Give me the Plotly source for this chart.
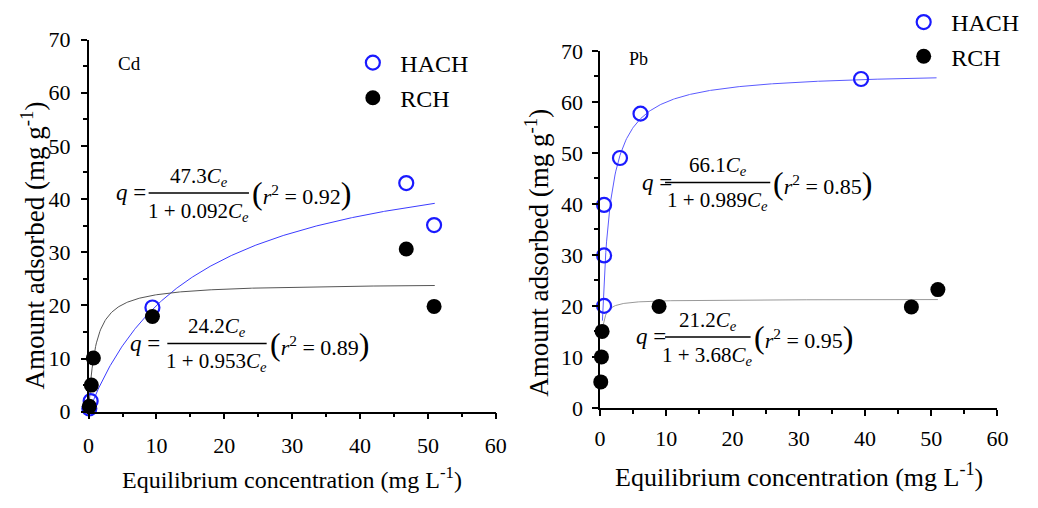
import numpy as np
import plotly.graph_objects as go

W, H = 1038, 508
FONT = "Times New Roman, Liberation Serif, DejaVu Serif, serif"

# ---- data ----
cd_hach_x = [0.1, 0.3, 9.4, 46.8, 50.9]
cd_hach_y = [0.6, 2.0, 19.6, 43.0, 35.1]
cd_rch_x = [0.1, 0.4, 0.7, 9.4, 46.8, 50.9]
cd_rch_y = [1.0, 5.0, 10.1, 17.9, 30.6, 19.8]

pb_hach_x = [0.6, 0.6, 0.6, 3.0, 6.1, 39.4]
pb_hach_y = [20.0, 29.9, 39.8, 49.0, 57.7, 64.5]
pb_rch_x = [0.1, 0.2, 0.3, 8.9, 47.0, 51.0]
pb_rch_y = [5.1, 10.0, 15.0, 19.9, 19.8, 23.2]

# Langmuir fit curves (drawn shape parameters)
cd_hach_fit = dict(qm=51.2, K=0.064, x0=0.0, x1=51.0)
cd_rch_fit = dict(qm=24.2, K=1.0, x0=0.0, x1=51.0)
pb_hach_fit = dict(qm=66.0, K=1.0, x0=0.35, x1=50.8)
pb_rch_fit = dict(qm=21.3, K=7.0, x0=0.45, x1=51.0)

x_ticks = [0, 10, 20, 30, 40, 50, 60]
y_ticks = [0, 10, 20, 30, 40, 50, 60, 70]


def langmuir(p):
    x = np.linspace(p["x0"], p["x1"], 400)
    return x, p["qm"] * p["K"] * x / (1 + p["K"] * x)


def px(x):
    return x / W


def py(y):
    return 1 - y / H


fig = go.Figure()

# curves
for fit, color, xa, ya in [
    (cd_hach_fit, "#3b3bff", "x", "y"),
    (cd_rch_fit, "#555555", "x", "y"),
    (pb_hach_fit, "#5a5aff", "x2", "y2"),
    (pb_rch_fit, "#999999", "x2", "y2"),
]:
    cx, cy = langmuir(fit)
    fig.add_trace(go.Scatter(x=cx, y=cy, mode="lines", line=dict(color=color, width=1),
                             xaxis=xa, yaxis=ya, showlegend=False, hoverinfo="skip"))

open_marker = dict(symbol="circle-open", size=14, color="#1a1aff", line=dict(width=2.2, color="#1a1aff"))
fill_marker = dict(symbol="circle", size=15, color="black")

fig.add_trace(go.Scatter(x=cd_hach_x, y=cd_hach_y, mode="markers", marker=open_marker, name="HACH",
                         xaxis="x", yaxis="y", cliponaxis=False, legend="legend", legendgroup="a"))
fig.add_trace(go.Scatter(x=cd_rch_x, y=cd_rch_y, mode="markers", marker=fill_marker, name="RCH",
                         xaxis="x", yaxis="y", cliponaxis=False, legend="legend", legendgroup="b"))
fig.add_trace(go.Scatter(x=pb_hach_x, y=pb_hach_y, mode="markers", marker=open_marker, name="HACH",
                         xaxis="x2", yaxis="y2", cliponaxis=False, legend="legend2", legendgroup="c"))
fig.add_trace(go.Scatter(x=pb_rch_x, y=pb_rch_y, mode="markers", marker=fill_marker, name="RCH",
                         xaxis="x2", yaxis="y2", cliponaxis=False, legend="legend2", legendgroup="d"))

axis_common = dict(
    showline=True, linecolor="black", linewidth=1.5, ticks="outside", ticklen=6, tickwidth=1.5,
    tickcolor="black", showgrid=False, zeroline=False,
    tickfont=dict(family=FONT, size=22, color="black"),
    minor=dict(ticks="outside", ticklen=4, tickwidth=1.5, tickcolor="black", showgrid=False),
)

fig.update_layout(
    width=W, height=H, margin=dict(l=0, r=0, t=0, b=0),
    paper_bgcolor="white", plot_bgcolor="white",
    font=dict(family=FONT),
    xaxis=dict(domain=[px(84), px(498)], range=[0, 60], tickvals=x_ticks, ticklabelstandoff=7,
               minor_tickvals=[5, 15, 25, 35, 45, 55], anchor="y", **axis_common),
    yaxis=dict(domain=[py(420), py(27)], range=[0, 70], tickvals=y_ticks, ticklabelstandoff=6,
               minor_tickvals=[5, 15, 25, 35, 45, 55, 65], anchor="x", **axis_common),
    xaxis2=dict(domain=[px(604), px(1008)], range=[0, 60], tickvals=x_ticks, ticklabelstandoff=4,
                minor_tickvals=[5, 15, 25, 35, 45, 55], anchor="y2", **axis_common),
    yaxis2=dict(domain=[py(416), py(39)], range=[0, 70], tickvals=y_ticks, ticklabelstandoff=5,
                minor_tickvals=[5, 15, 25, 35, 45, 55, 65], anchor="x2", **axis_common),
    legend=dict(x=px(345), y=py(28), xanchor="left", yanchor="top", tracegroupgap=1, itemwidth=45,
                font=dict(family=FONT, size=24, color="black"), bgcolor="rgba(0,0,0,0)"),
    legend2=dict(x=px(905), y=py(-15), xanchor="left", yanchor="top", tracegroupgap=0, itemwidth=45,
                 font=dict(family=FONT, size=24, color="black"), bgcolor="rgba(0,0,0,0)"),
    showlegend=True,
)

ann = []
shapes = []


def text(x, y, s, size=20, xanchor="center", angle=0):
    ann.append(dict(x=px(x), y=py(y), xref="paper", yref="paper", text=s, showarrow=False,
                    xanchor=xanchor, yanchor="middle", textangle=angle,
                    font=dict(family=FONT, size=size, color="black")))


CE = "<i>C</i><sub><i>e</i></sub>"


def equation(qx, ly, x0, x1, num, den, r2, size=20):
    text(qx, ly, "<i>q</i> =", size=size + 3, xanchor="left")
    cx = (x0 + x1) / 2
    text(cx, ly - size * 0.85, num, size=size + 1)
    text(cx, ly + size * 1.0, den, size=size + 1)
    shapes.append(dict(type="line", xref="paper", yref="paper", x0=px(x0), x1=px(x1),
                       y0=py(ly), y1=py(ly), line=dict(color="black", width=1.5)))
    text(x1 + 1, ly, "<span style='font-size:%dpx'>(</span><i>r</i><sup>2</sup> = %s"
         "<span style='font-size:%dpx'>)</span>" % (int(size * 1.6), r2, int(size * 1.6)),
         size=size + 2, xanchor="left")


equation(110, 189, 145, 247, "47.3" + CE, "1 + 0.092" + CE, "0.92", size=20)
equation(124, 348, 164, 265, "24.2" + CE, "1 + 0.953" + CE, "0.89", size=20)
equation(645, 178, 670, 777, "66.1" + CE, "1 + 0.989" + CE, "0.85", size=20)
equation(638, 341, 670, 757, "21.2" + CE, "1 + 3.68" + CE, "0.95", size=20)

text(126, 52, "Cd", size=19)
text(643, 47, "Pb", size=18)

text(27, 245, "Amount adsorbed (mg g<sup>-1</sup>)", size=27, angle=-90)
text(539, 252, "Amount adsorbed (mg g<sup>-1</sup>)", size=27, angle=-90)
text(291, 490, "Equilibrium concentration (mg L<sup>-1</sup>)", size=24)
text(806, 487, "Equilibrium concentration (mg L<sup>-1</sup>)", size=26)

fig.update_layout(annotations=ann, shapes=shapes)
fig.write_html("out.html")
